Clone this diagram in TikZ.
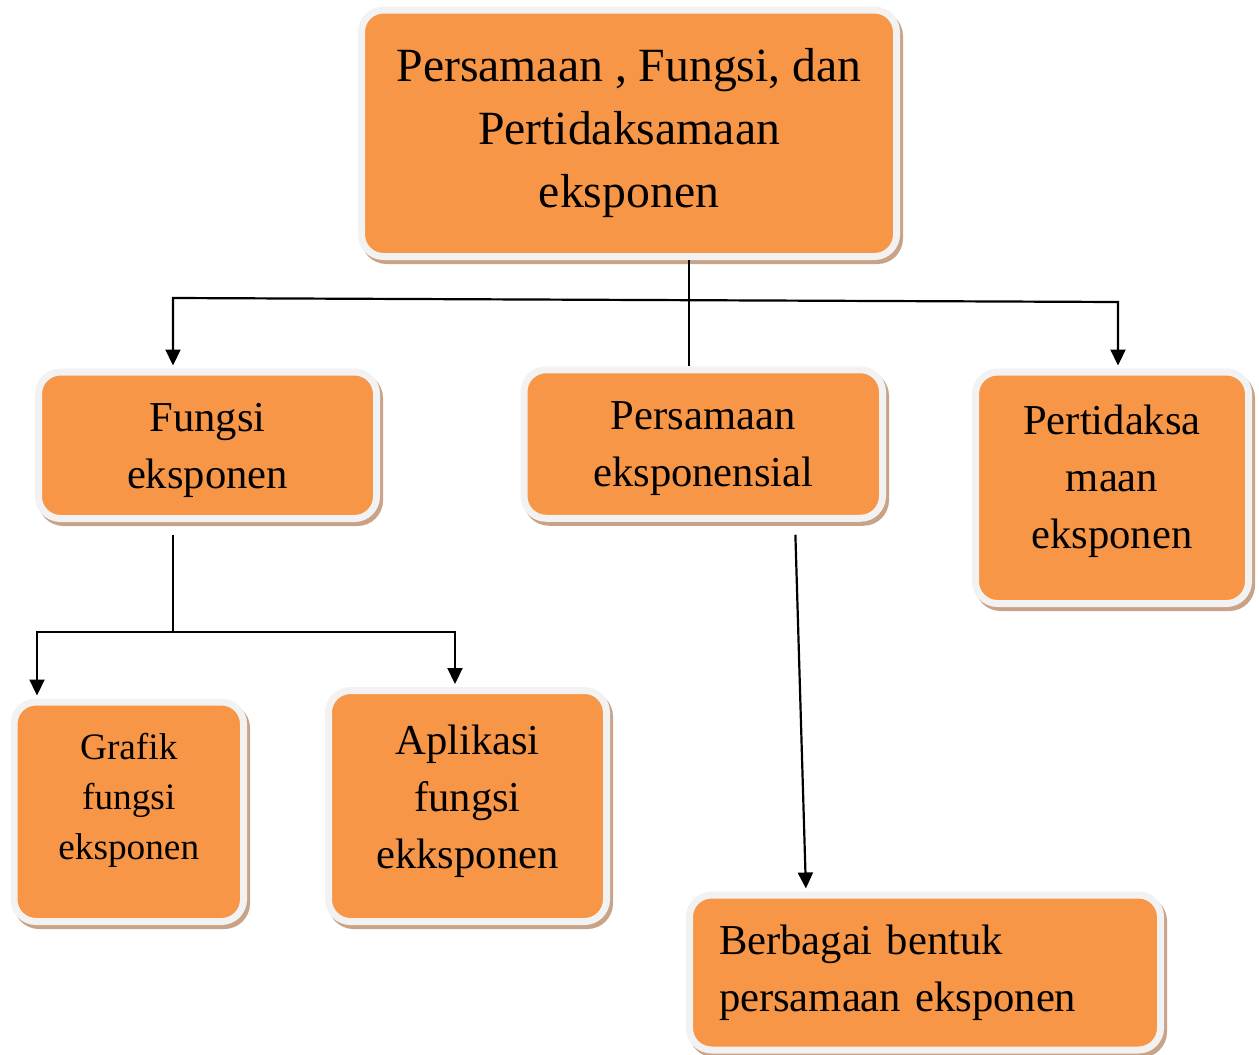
\documentclass[tikz,border=0pt]{standalone}
\usepackage{fontspec}
\setmainfont{Liberation Serif}
\usetikzlibrary{arrows.meta}
\definecolor{boxorange}{HTML}{F79646}
\definecolor{boxrim}{HTML}{F2F2F2}
\definecolor{boxshade}{RGB}{201,163,135}
\newcommand\toppad[1]{\rule{0pt}{#1}}
\newcommand\botpad[1]{\rule[-#1]{0pt}{0pt}}
\begin{document}
\begin{tikzpicture}[x=1pt,y=-1pt,
  cbox/.style={rectangle, rounded corners=22pt, fill=boxorange, draw=boxrim, line width=7pt, inner sep=0pt, align=center,
    preaction={draw=boxshade, fill=boxshade, line width=7pt, transform canvas={shift={(3pt,-4pt)}}}},
  conn/.style={line width=2.2pt, line join=miter},
  arr/.style={conn, -{Triangle[width=15pt,length=16pt]}},
  arrboth/.style={conn, {Triangle[width=15pt,length=16pt]}-{Triangle[width=15pt,length=16pt]}},
  bigfont/.style={font=\fontsize{47.7}{63}\selectfont},
  midfont/.style={font=\fontsize{42.6}{57}\selectfont},
  smallfont/.style={font=\fontsize{37.3}{50}\selectfont}
]
\useasboundingbox (0,0) rectangle (1259,1055);

\node[cbox, bigfont, minimum width=535pt, minimum height=246.5pt] (t) at (629,133.25)
  {Persamaan , Fungsi, dan\\Pertidaksamaan\\eksponen};
\node[cbox, midfont, minimum width=338pt, minimum height=146.5pt] (fe) at (207.5,445.25)
  {\toppad{39pt}Fungsi\\eksponen};
\node[cbox, midfont, minimum width=358.5pt, minimum height=148.5pt] (pe) at (703.25,444)
  {\toppad{38pt}Persamaan\\eksponensial};
\node[cbox, midfont, minimum width=273pt, minimum height=231.5pt] (pt) at (1112,487.75)
  {Pertidaksa\\maan\\eksponen\botpad{23pt}};
\node[cbox, smallfont, minimum width=229.5pt, minimum height=219.5pt] (gf) at (128.75,811.75)
  {Grafik\\fungsi\\eksponen\botpad{30pt}};
\node[cbox, midfont, minimum width=278pt, minimum height=231pt] (af) at (467.5,806)
  {Aplikasi\\fungsi\\ekksponen\botpad{19pt}};
\node[cbox, midfont, minimum width=471pt, minimum height=155pt, align=left, text width=412pt] (bb) at (925,972.5)
  {Berbagai bentuk\\persamaan eksponen};

% connectors
\coordinate (hl) at (173,298);
\coordinate (hr) at (1118,302);
\draw[conn] (t.south -| 689,0) -- (pe.north -| 689,0);
\draw[arrboth, shorten <=3pt, shorten >=3pt] (fe.north -| hl) -- (hl) -- (hr) -- (pt.north -| hr);

\coordinate (fj) at (173,632);
\coordinate (fl) at (37,632);
\coordinate (fr) at (455,632);
\draw[conn, shorten <=13pt] (fe.south -| fj) -- (fj);
\draw[arrboth, shorten <=3pt, shorten >=3pt] (gf.north -| fl) -- (fl) -- (fr) -- (af.north -| fr);

\draw[arr, shorten <=13pt, shorten >=3pt] (pe.south -| 795,0) -- (bb.north -| 806,0);
\end{tikzpicture}
\end{document}
